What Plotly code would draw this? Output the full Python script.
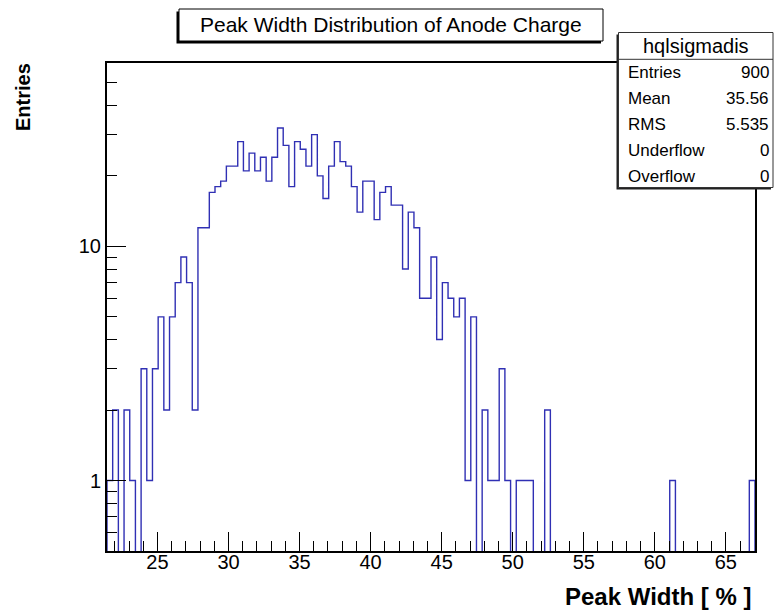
import plotly.graph_objects as go

# Histogram binning (Peak Width [%])
x_min = 21.45
bin_width = 0.4
counts = [
    1, 2, 0, 2, 1, 0, 3, 1, 3, 5, 2, 5, 7, 9, 7, 2, 12, 12, 17, 18,
    19, 22, 22, 28, 21, 25, 21, 24, 19, 24, 32, 27, 18, 28, 26, 22, 30, 20, 16, 22,
    28, 23, 22, 18, 14, 19, 19, 13, 17, 18, 15, 15, 8, 14, 12, 6, 6, 9, 4, 7,
    6, 5, 6, 1, 5, 0, 2, 1, 1, 3, 1, 0, 1, 1, 1, 0, 0, 2, 0, 0,
    0, 0, 0, 0, 0, 0, 0, 0, 0, 0, 0, 0, 0, 0, 0, 0, 0, 0, 0, 1,
    0, 0, 0, 0, 0, 0, 0, 0, 0, 0, 0, 0, 0, 1,
]
x_ticks = [25, 30, 35, 40, 45, 50, 55, 60, 65]
y_major = [1, 10]
y_minor = [0.6, 0.7, 0.8, 0.9, 2, 3, 4, 5, 6, 7, 8, 9, 20, 30, 40, 50]

stats_name = "hqlsigmadis"
stats_labels = ["Entries", "Mean", "RMS", "Underflow", "Overflow"]
stats_values = ["900", "35.56", "5.535", "0", "0"]

n_bins = len(counts)
edges = [x_min + i * bin_width for i in range(n_bins + 1)]
floor = 0.3  # empty bins drop below the visible axis minimum

# step outline: up from the floor at the first edge, down at the last edge
step_x = [edges[0]] + edges[:n_bins] + [edges[n_bins], edges[n_bins]]
step_y = [floor] + [c if c > 0 else floor for c in counts] + [counts[-1] if counts[-1] > 0 else floor, floor]

W, H = 777, 612
L, R, T, B = 107, 755, 63, 551


def px(xp):
    return (xp - L) / (R - L)


def py(yp):
    return (B - yp) / (B - T)


fig = go.Figure()
fig.add_trace(go.Scatter(
    x=step_x, y=step_y, mode="lines", line=dict(color="#3030b4", width=1.4, shape="hv"),
    hoverinfo="skip", showlegend=False,
))

font = "Liberation Sans, Arial, sans-serif"

shapes = [
    # title box with shadow
    dict(type="rect", xref="paper", yref="paper", x0=px(176.5), x1=px(601), y0=py(43.5), y1=py(11.5),
         fillcolor="black", line=dict(width=0), layer="above"),
    dict(type="rect", xref="paper", yref="paper", x0=px(179), x1=px(603), y0=py(41), y1=py(9),
         fillcolor="white", line=dict(color="black", width=1), layer="above"),
    # statistics box with shadow
    dict(type="rect", xref="paper", yref="paper", x0=px(616.5), x1=px(771), y0=py(189.5), y1=py(34.5),
         fillcolor="#222222", line=dict(width=0), layer="above"),
    dict(type="rect", xref="paper", yref="paper", x0=px(618.5), x1=px(773), y0=py(187.5), y1=py(32.5),
         fillcolor="white", line=dict(color="#333333", width=1), layer="above"),
    dict(type="line", xref="paper", yref="paper", x0=px(618.5), x1=px(773), y0=py(59.3), y1=py(59.3),
         line=dict(color="#333333", width=1), layer="above"),
]

annotations = [
    dict(text="Peak Width Distribution of Anode Charge", x=px(391), y=py(24), xref="paper", yref="paper",
         xanchor="center", yanchor="middle", showarrow=False, font=dict(family=font, size=21, color="black")),
    dict(text=stats_name, x=px(696), y=py(46), xref="paper", yref="paper",
         xanchor="center", yanchor="middle", showarrow=False, font=dict(family=font, size=20, color="black")),
    dict(text="<b>Peak Width [ % ]</b>", x=px(753), y=py(596), xref="paper", yref="paper",
         xanchor="right", yanchor="middle", showarrow=False, font=dict(family=font, size=24, color="black")),
    dict(text="<b>Entries</b>", x=px(23), y=py(61), xref="paper", yref="paper", textangle=-90,
         xanchor="center", yanchor="top", showarrow=False, font=dict(family=font, size=20, color="black")),
]
row_y = [72.5, 98.5, 124.5, 150.5, 176.5]
for lab, val, yy in zip(stats_labels, stats_values, row_y):
    annotations.append(dict(text=lab, x=px(626), y=py(yy), xref="paper", yref="paper",
                            xanchor="left", yanchor="middle", showarrow=False,
                            font=dict(family=font, size=17, color="black")))
    annotations.append(dict(text=val, x=px(771), y=py(yy), xref="paper", yref="paper",
                            xanchor="right", yanchor="middle", showarrow=False,
                            font=dict(family=font, size=17, color="black")))

fig.update_layout(
    width=W, height=H,
    margin=dict(l=L, r=W - R, t=T, b=H - B, pad=0),
    paper_bgcolor="white", plot_bgcolor="white",
    shapes=shapes, annotations=annotations,
    xaxis=dict(
        range=[edges[0], edges[-1]], tickmode="array", tickvals=x_ticks, ticktext=[str(v) for v in x_ticks],
        ticks="inside", ticklen=19, tickwidth=1, tickcolor="black",
        minor=dict(tickmode="linear", tick0=0, dtick=1, ticks="inside", ticklen=10, tickwidth=1, tickcolor="black"),
        showline=True, linecolor="black", linewidth=2, mirror=True, showgrid=False, zeroline=False,
        tickfont=dict(family=font, size=20, color="black"), ticklabelstandoff=-8,
    ),
    yaxis=dict(
        type="log", range=[-0.301, 1.783], tickmode="array", tickvals=y_major,
        ticktext=[str(v) for v in y_major],
        ticks="inside", ticklen=19, tickwidth=1, tickcolor="black",
        minor=dict(tickmode="array", tickvals=y_minor, ticks="inside", ticklen=10, tickwidth=1, tickcolor="black"),
        showline=True, linecolor="black", linewidth=2, mirror=True, showgrid=False, zeroline=False,
        tickfont=dict(family=font, size=20, color="black"), ticklabelstandoff=0,
    ),
)

fig.write_html("out.html")
